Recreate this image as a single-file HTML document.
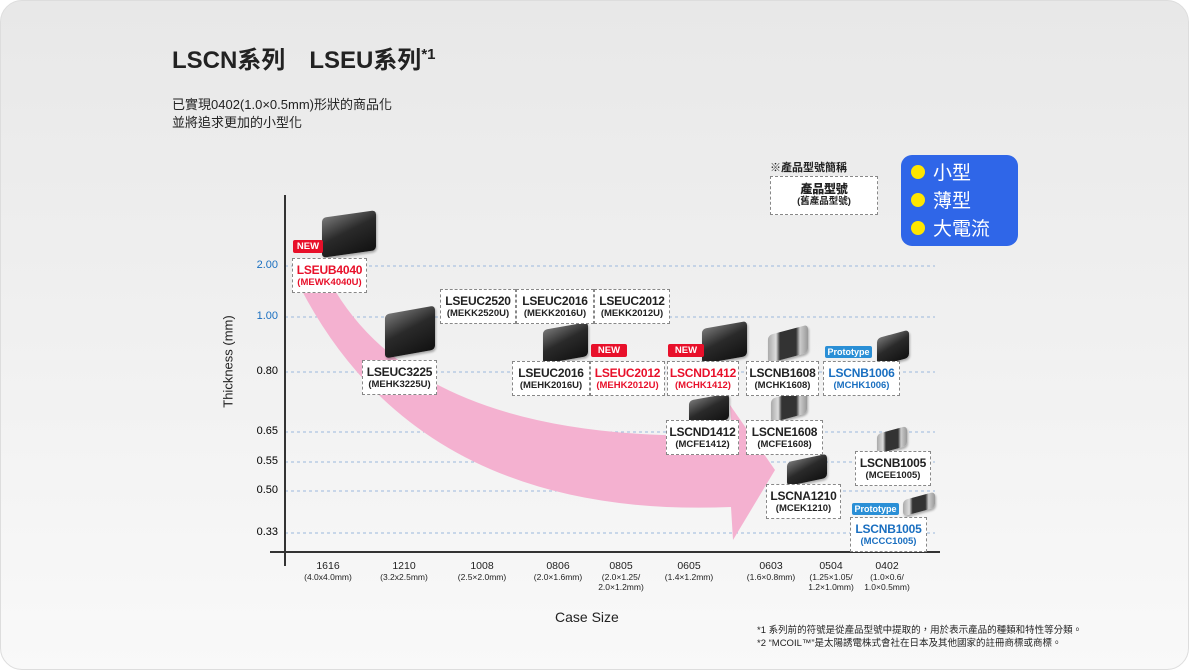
<!DOCTYPE html>
<html><head><meta charset="utf-8"><style>
*{margin:0;padding:0;box-sizing:border-box}
body{width:1189px;height:670px;background:#fff;font-family:"Liberation Sans","Noto Sans CJK TC",sans-serif;overflow:hidden;position:relative}
.card{position:absolute;left:0;top:0;width:1189px;height:670px;border-radius:22px;background:linear-gradient(#e8e8e8,#f2f2f2 60%,#f9f9f9);border:1px solid #ddd}
.a{position:absolute}
.lb{position:absolute;background:#fff;border:1px dashed #888;text-align:center;font-weight:bold;color:#222;white-space:nowrap}
.lb b{display:block;font-size:12px;letter-spacing:-0.2px;line-height:14px;margin-top:4px}
.lb i{display:block;font-style:normal;font-size:9.5px;line-height:12px}
.red{color:#e8102a}.blue{color:#1a6fc0}
.new{position:absolute;background:#e8102a;color:#fff;font-size:9.5px;font-weight:bold;text-align:center;line-height:13px;border-radius:2px}
.pro{position:absolute;background:#2a8fd6;color:#fff;font-size:9px;font-weight:bold;text-align:center;line-height:12px;border-radius:2px}
.chip{position:absolute;border-radius:4px;background:linear-gradient(160deg,#777,#2a2a2a 45%,#111);box-shadow:1px 2px 2px rgba(0,0,0,.3)}
.chip.g{background:linear-gradient(90deg,#aaa,#ddd 20%,#333 30%,#333 70%,#ccc 80%,#999)}
.yl{position:absolute;font-size:11px;left:248px;width:30px;text-align:right}
.xl{position:absolute;top:560px;text-align:center;font-size:10.5px;color:#222;line-height:12px}
.xl small{display:block;font-size:8.5px;line-height:10px}
</style></head><body>
<div class="card"></div>
<div class="a" style="left:172px;top:40px;font-size:24px;font-weight:bold;color:#222;white-space:pre">LSCN系列　LSEU系列<span style="font-size:15px;vertical-align:9px">*1</span></div>
<div class="a" style="left:172px;top:96px;font-size:13px;line-height:18px;color:#222">已實現0402(1.0×0.5mm)形狀的商品化<br>並將追求更加的小型化</div>

<svg class="a" style="left:0;top:0" width="1189" height="670">
<g stroke="#9bb8dd" stroke-dasharray="3,3" stroke-width="1">
<line x1="285" y1="266" x2="935" y2="266"/><line x1="285" y1="317" x2="935" y2="317"/><line x1="285" y1="372" x2="935" y2="372"/><line x1="285" y1="432" x2="935" y2="432"/><line x1="285" y1="462" x2="935" y2="462"/><line x1="285" y1="491" x2="935" y2="491"/><line x1="285" y1="533" x2="935" y2="533"/>
</g>
<path d="M330 282 Q420 445 732 435 L730 405 L775 470 L733 540 L731 507 Q420 520 300 287 Z" fill="#f4b1d0"/>
<line x1="285" y1="195" x2="285" y2="566" stroke="#333" stroke-width="2"/>
<line x1="270" y1="552" x2="940" y2="552" stroke="#333" stroke-width="2"/>
</svg>

<div class="yl" style="top:259px;color:#1a6fc0">2.00</div>
<div class="yl" style="top:310px;color:#1a6fc0">1.00</div>
<div class="yl" style="top:365px">0.80</div>
<div class="yl" style="top:425px">0.65</div>
<div class="yl" style="top:455px">0.55</div>
<div class="yl" style="top:484px">0.50</div>
<div class="yl" style="top:526px">0.33</div>
<div class="a" style="left:168px;top:354px;width:120px;text-align:center;transform:rotate(-90deg);font-size:13px;color:#222">Thickness (mm)</div>

<div class="xl" style="left:298px;width:60px">1616<small>(4.0x4.0mm)</small></div>
<div class="xl" style="left:374px;width:60px">1210<small>(3.2x2.5mm)</small></div>
<div class="xl" style="left:447px;width:70px">1008<small>(2.5×2.0mm)</small></div>
<div class="xl" style="left:523px;width:70px">0806<small>(2.0×1.6mm)</small></div>
<div class="xl" style="left:591px;width:60px">0805<small>(2.0×1.25/<br>2.0×1.2mm)</small></div>
<div class="xl" style="left:656px;width:66px">0605<small>(1.4×1.2mm)</small></div>
<div class="xl" style="left:738px;width:66px">0603<small>(1.6×0.8mm)</small></div>
<div class="xl" style="left:801px;width:60px">0504<small>(1.25×1.05/<br>1.2×1.0mm)</small></div>
<div class="xl" style="left:860px;width:54px">0402<small>(1.0×0.6/<br>1.0×0.5mm)</small></div>
<div class="a" style="left:555px;top:609px;font-size:14px;color:#222">Case Size</div>
<div class="a" style="left:757px;top:624px;font-size:9.5px;line-height:13px;color:#222">*1 系列前的符號是從產品型號中提取的，用於表示產品的種類和特性等分類。<br>*2 “MCOIL™”是太陽誘電株式會社在日本及其他國家的註冊商標或商標。</div>

<div class="a" style="left:770px;top:159px;font-size:11px;font-weight:bold;color:#222">※產品型號簡稱</div>
<div class="lb" style="left:770px;top:176px;width:108px;height:39px"><b style="font-size:12px;margin-top:5px">產品型號</b><i>(舊產品型號)</i></div>
<div class="a" style="left:901px;top:155px;width:117px;height:91px;border-radius:11px;background:#2f66e8"></div>
<div class="a" style="left:911px;top:160px;color:#fff;font-size:19px;line-height:28px">
<div><span style="display:inline-block;width:14px;height:14px;border-radius:7px;background:#ffe600;margin-right:8px"></span>小型</div>
<div><span style="display:inline-block;width:14px;height:14px;border-radius:7px;background:#ffe600;margin-right:8px"></span>薄型</div>
<div><span style="display:inline-block;width:14px;height:14px;border-radius:7px;background:#ffe600;margin-right:8px"></span>大電流</div>
</div>

<div class="chip" style="left:322px;top:214px;width:54px;height:40px;transform:skewY(-8deg)"></div>
<div class="chip" style="left:385px;top:310px;width:50px;height:44px;transform:skewY(-10deg)"></div>
<div class="chip" style="left:543px;top:326px;width:45px;height:34px;transform:skewY(-10deg)"></div>
<div class="chip" style="left:702px;top:325px;width:45px;height:35px;transform:skewY(-10deg)"></div>
<div class="chip g" style="left:768px;top:330px;width:40px;height:28px;transform:skewY(-15deg)"></div>
<div class="chip" style="left:877px;top:334px;width:32px;height:28px;transform:skewY(-15deg)"></div>
<div class="chip" style="left:689px;top:397px;width:40px;height:26px;transform:skewY(-10deg)"></div>
<div class="chip g" style="left:771px;top:394px;width:36px;height:24px;transform:skewY(-15deg)"></div>
<div class="chip g" style="left:877px;top:430px;width:30px;height:20px;transform:skewY(-15deg)"></div>
<div class="chip" style="left:787px;top:458px;width:40px;height:24px;transform:skewY(-12deg)"></div>
<div class="chip g" style="left:903px;top:496px;width:32px;height:16px;transform:skewY(-15deg)"></div>

<div class="new" style="left:293px;top:240px;width:30px">NEW</div>
<div class="lb red" style="left:292px;top:258px;width:75px;height:35px"><b>LSEUB4040</b><i>(MEWK4040U)</i></div>
<div class="lb" style="left:440px;top:289px;width:76px;height:35px"><b>LSEUC2520</b><i>(MEKK2520U)</i></div>
<div class="lb" style="left:516px;top:289px;width:78px;height:35px"><b>LSEUC2016</b><i>(MEKK2016U)</i></div>
<div class="lb" style="left:594px;top:289px;width:76px;height:35px"><b>LSEUC2012</b><i>(MEKK2012U)</i></div>
<div class="lb" style="left:362px;top:360px;width:75px;height:35px"><b>LSEUC3225</b><i>(MEHK3225U)</i></div>
<div class="lb" style="left:512px;top:361px;width:78px;height:35px"><b>LSEUC2016</b><i>(MEHK2016U)</i></div>
<div class="new" style="left:591px;top:344px;width:36px">NEW</div>
<div class="lb red" style="left:590px;top:361px;width:75px;height:35px"><b>LSEUC2012</b><i>(MEHK2012U)</i></div>
<div class="new" style="left:668px;top:344px;width:36px">NEW</div>
<div class="lb red" style="left:667px;top:361px;width:72px;height:35px"><b>LSCND1412</b><i>(MCHK1412)</i></div>
<div class="lb" style="left:746px;top:361px;width:73px;height:35px"><b>LSCNB1608</b><i>(MCHK1608)</i></div>
<div class="pro" style="left:825px;top:346px;width:47px">Prototype</div>
<div class="lb blue" style="left:823px;top:361px;width:77px;height:35px"><b>LSCNB1006</b><i>(MCHK1006)</i></div>
<div class="lb" style="left:666px;top:420px;width:73px;height:35px"><b>LSCND1412</b><i>(MCFE1412)</i></div>
<div class="lb" style="left:746px;top:420px;width:77px;height:35px"><b>LSCNE1608</b><i>(MCFE1608)</i></div>
<div class="lb" style="left:855px;top:451px;width:76px;height:35px"><b>LSCNB1005</b><i>(MCEE1005)</i></div>
<div class="lb" style="left:766px;top:484px;width:75px;height:35px"><b>LSCNA1210</b><i>(MCEK1210)</i></div>
<div class="pro" style="left:852px;top:503px;width:47px">Prototype</div>
<div class="lb blue" style="left:850px;top:517px;width:77px;height:35px"><b>LSCNB1005</b><i>(MCCC1005)</i></div>
</body></html>
